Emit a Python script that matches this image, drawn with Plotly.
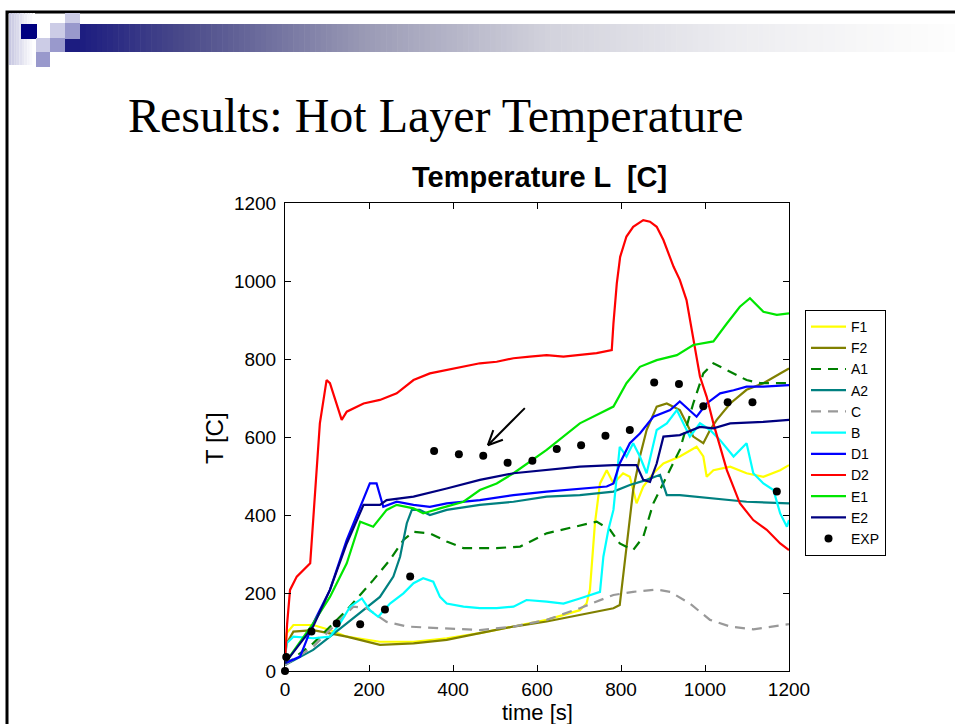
import plotly.graph_objects as go
import math

# ---------------- data ----------------
D2_t = [0, 5, 12, 28, 60, 67, 83, 99, 107, 135, 147, 187, 226, 266, 306, 345, 385, 425, 464, 504, 544, 583, 623, 663, 702, 742, 778, 782, 790, 798, 813, 829, 853, 869, 885, 901, 925, 940, 956, 972, 988, 1004, 1020, 1052, 1083, 1115, 1147, 1179, 1200]
D2_T = [20, 120, 208, 242, 276, 379, 635, 746, 738, 644, 665, 686, 695, 712, 746, 763, 772, 780, 789, 793, 802, 806, 810, 806, 810, 815, 823, 891, 994, 1062, 1114, 1139, 1156, 1152, 1139, 1105, 1037, 1003, 951, 849, 755, 703, 635, 515, 430, 387, 362, 327, 310]

E1_t = [0, 67, 107, 147, 179, 210, 242, 266, 306, 329, 369, 425, 464, 504, 544, 623, 702, 782, 813, 845, 885, 933, 972, 1020, 1052, 1083, 1107, 1139, 1171, 1200]
E1_T = [20, 122, 190, 276, 383, 370, 413, 426, 417, 404, 417, 434, 464, 481, 507, 567, 635, 678, 738, 780, 797, 810, 836, 845, 891, 934, 956, 921, 913, 917]

D1_t = [0, 36, 67, 107, 147, 179, 202, 218, 234, 266, 306, 345, 385, 464, 544, 623, 702, 766, 782, 797, 821, 845, 877, 917, 940, 964, 980, 1004, 1036, 1068, 1099, 1139, 1200]
D1_T = [20, 37, 122, 208, 336, 421, 481, 481, 421, 434, 426, 421, 430, 438, 451, 460, 468, 473, 481, 532, 584, 609, 652, 669, 691, 669, 652, 686, 712, 720, 729, 729, 733]

E2_t = [0, 67, 107, 147, 187, 226, 242, 306, 385, 464, 544, 623, 702, 782, 837, 853, 869, 885, 901, 940, 988, 1020, 1060, 1139, 1200]
E2_T = [20, 114, 208, 327, 426, 426, 438, 447, 468, 490, 507, 515, 524, 528, 528, 490, 485, 532, 601, 605, 626, 622, 635, 639, 644]

A2_t = [0, 67, 147, 226, 258, 274, 290, 302, 321, 345, 385, 464, 544, 623, 702, 782, 821, 861, 893, 909, 940, 1020, 1099, 1200]
A2_T = [15, 54, 122, 190, 242, 293, 379, 413, 413, 400, 413, 426, 434, 447, 451, 460, 477, 490, 503, 451, 451, 443, 434, 430]

F1_t = [0, 4, 20, 67, 107, 147, 226, 306, 385, 464, 544, 623, 702, 718, 726, 738, 750, 766, 782, 805, 821, 837, 853, 877, 901, 940, 980, 996, 1004, 1020, 1060, 1099, 1139, 1179, 1200]
F1_T = [60, 97, 118, 118, 105, 88, 75, 75, 84, 97, 114, 131, 156, 173, 208, 379, 481, 515, 481, 507, 498, 430, 473, 507, 532, 550, 575, 550, 498, 515, 524, 507, 498, 515, 528]

F2_t = [0, 4, 20, 67, 147, 226, 306, 385, 464, 544, 623, 702, 782, 797, 813, 829, 845, 861, 885, 909, 940, 972, 996, 1012, 1028, 1060, 1099, 1139, 1179, 1200]
F2_T = [40, 71, 101, 105, 88, 67, 71, 80, 97, 114, 127, 144, 161, 169, 319, 464, 550, 618, 678, 686, 669, 601, 584, 618, 644, 686, 721, 738, 763, 776]

B_t = [0, 4, 20, 67, 107, 131, 155, 183, 202, 222, 250, 282, 306, 329, 353, 369, 385, 425, 464, 504, 544, 575, 623, 663, 702, 750, 758, 770, 782, 797, 813, 829, 845, 861, 885, 909, 933, 948, 964, 988, 1012, 1036, 1068, 1099, 1115, 1139, 1163, 1179, 1195, 1200]
B_T = [30, 71, 88, 84, 88, 122, 165, 186, 156, 139, 173, 199, 225, 238, 229, 190, 173, 165, 161, 161, 165, 182, 178, 173, 186, 203, 293, 362, 413, 575, 550, 584, 550, 507, 618, 635, 669, 635, 601, 635, 618, 592, 550, 584, 507, 481, 464, 404, 370, 387]

A1_t = [0, 67, 147, 210, 250, 282, 306, 345, 385, 425, 504, 560, 623, 702, 742, 774, 797, 829, 853, 877, 909, 940, 972, 996, 1020, 1052, 1099, 1131, 1200]
A1_T = [15, 71, 156, 233, 285, 336, 357, 353, 332, 315, 315, 319, 353, 374, 383, 362, 327, 310, 344, 430, 498, 567, 686, 763, 789, 772, 746, 738, 738]

C_t = [0, 67, 123, 163, 194, 242, 290, 385, 464, 544, 623, 702, 782, 829, 885, 917, 964, 1012, 1060, 1115, 1163, 1200]
C_T = [15, 62, 122, 165, 161, 126, 114, 109, 105, 114, 131, 161, 195, 203, 209, 203, 173, 131, 114, 107, 114, 120]

EXP_t = [0, 3, 63, 123, 179, 238, 298, 355, 414, 472, 530, 589, 647, 705, 763, 821, 879, 938, 996, 1054, 1113, 1171]
EXP_T = [0, 36, 101, 122, 120, 158, 242, 564, 556, 552, 534, 539, 569, 579, 603, 618, 740, 736, 679, 689, 689, 460]

SERIES = [
    ("F1", F1_t, F1_T, "#ffff00", "solid"),
    ("F2", F2_t, F2_T, "#808000", "solid"),
    ("A1", A1_t, A1_T, "#008000", "10px,7px"),
    ("A2", A2_t, A2_T, "#008080", "solid"),
    ("C", C_t, C_T, "#999999", "10px,7px"),
    ("B", B_t, B_T, "#00ffff", "solid"),
    ("D1", D1_t, D1_T, "#0000ff", "solid"),
    ("D2", D2_t, D2_T, "#ff0000", "solid"),
    ("E1", E1_t, E1_T, "#00e600", "solid"),
    ("E2", E2_t, E2_T, "#000080", "solid"),
]

X_TICKS = [0, 200, 400, 600, 800, 1000, 1200]
Y_TICKS = [0, 200, 400, 600, 800, 1000, 1200]

ARROW_TAIL = (571, 674)
ARROW_HEAD = (483, 579)

# ---------------- layout geometry (pixels) ----------------
W, H = 955, 724
PL, PR, PT, PB = 285, 789, 203, 671


def px(x):
    return (x - PL) / (PR - PL)


def py(y):
    return (PB - y) / (PB - PT)


fig = go.Figure()
for name, t, T, col, dash in SERIES:
    fig.add_trace(go.Scatter(x=t, y=T, mode="lines", name=name,
                             line=dict(color=col, width=2.2, dash=dash)))
fig.add_trace(go.Scatter(x=EXP_t, y=EXP_T, mode="markers", name="EXP",
                         marker=dict(color="black", size=8),
                         cliponaxis=False))

shapes = []
# slide border
shapes.append(dict(type="rect", xref="paper", yref="paper", x0=px(7), x1=px(960),
                   y0=py(12), y1=py(730), line=dict(color="black", width=3),
                   fillcolor="rgba(0,0,0,0)", layer="below"))


def lerp(c1, c2, f):
    return tuple(int(round(a + (b - a) * f)) for a, b in zip(c1, c2))


# left faint lavender gradient strip
n = 10
for i in range(n):
    f = i / (n - 1)
    c = lerp((200, 200, 226), (255, 255, 255), f)
    x0 = 9 + (35 - 9) * i / n
    x1 = 9 + (35 - 9) * (i + 1) / n
    shapes.append(dict(type="rect", xref="paper", yref="paper", x0=px(x0), x1=px(x1),
                       y0=py(13), y1=py(65), line=dict(width=0),
                       fillcolor="rgb(%d,%d,%d)" % c, layer="below"))

# gradient bar
stops = [(80, (28, 28, 128)), (183, (74, 74, 138)), (365, (154, 154, 181)),
         (548, (210, 210, 220)), (731, (236, 236, 240)), (900, (250, 250, 250)), (955, (253, 253, 253))]
steps = 160
for i in range(steps):
    xa = 80 + (955 - 80) * i / steps
    xb = 80 + (955 - 80) * (i + 1) / steps
    xm = (xa + xb) / 2
    c = stops[-1][1]
    for (s0, c0), (s1, c1) in zip(stops[:-1], stops[1:]):
        if s0 <= xm <= s1:
            c = lerp(c0, c1, (xm - s0) / (s1 - s0))
            break
    shapes.append(dict(type="rect", xref="paper", yref="paper", x0=px(xa), x1=px(xb + 0.6),
                       y0=py(24), y1=py(52), line=dict(width=0),
                       fillcolor="rgb(%d,%d,%d)" % c, layer="below"))

# squares
sq = [
    (21, 24, 37, 39, "#000080"),
    (50, 23, 65, 38, "#ccccE6"),
    (65, 13, 80, 23, "#ccccE6"),
    (65, 23, 80, 39, "#9999cc"),
    (36, 38, 50, 52, "#ccccE6"),
    (50, 38, 65, 52, "#9999cc"),
    (36, 52, 50, 67, "#9999cc"),
    (65, 39, 80, 52, "#1c1c80"),
]
for x0, y0, x1, y1, c in sq:
    shapes.append(dict(type="rect", xref="paper", yref="paper", x0=px(x0), x1=px(x1),
                       y0=py(y0), y1=py(y1), line=dict(width=0), fillcolor=c, layer="below"))

# arrow (data coordinates); head drawn as open V
ax_scale = (PR - PL) / 1200.0
ay_scale = (PB - PT) / 1200.0
hx, hy = ARROW_HEAD
tx, ty = ARROW_TAIL
shapes.append(dict(type="line", xref="x", yref="y", x0=tx, y0=ty, x1=hx, y1=hy,
                   line=dict(color="black", width=2)))
dxp = (tx - hx) * ax_scale
dyp = (ty - hy) * ay_scale
L = math.hypot(dxp, dyp)
ux, uy = dxp / L, dyp / L
for ang in (25, -25):
    a = math.radians(ang)
    rx = ux * math.cos(a) - uy * math.sin(a)
    ry = ux * math.sin(a) + uy * math.cos(a)
    shapes.append(dict(type="line", xref="x", yref="y", x0=hx, y0=hy,
                       x1=hx + rx * 16 / ax_scale, y1=hy + ry * 16 / ay_scale,
                       line=dict(color="black", width=2)))

annotations = [
    dict(text="Results: Hot Layer Temperature", xref="paper", yref="paper",
         x=px(126), y=py(115), xanchor="left", yanchor="middle", showarrow=False,
         font=dict(family="Liberation Serif", size=48, color="black")),
    dict(text="<b>Temperature L  [C]</b>", xref="paper", yref="paper",
         x=px(539), y=py(177), xanchor="center", yanchor="middle", showarrow=False,
         font=dict(family="Liberation Sans", size=29, color="black")),
    dict(text="T [C]", xref="paper", yref="paper", textangle=-90,
         x=px(214), y=py(438), xanchor="center", yanchor="middle", showarrow=False,
         font=dict(family="Liberation Sans", size=24, color="black")),
    dict(text="time [s]", xref="paper", yref="paper",
         x=px(537), y=py(712), xanchor="center", yanchor="middle", showarrow=False,
         font=dict(family="Liberation Sans", size=22, color="black")),
]

axis_common = dict(showgrid=False, zeroline=False, showline=True, mirror="ticks",
                   linecolor="black", linewidth=1, ticks="inside", ticklen=6,
                   tickcolor="black", tickwidth=1,
                   tickfont=dict(family="Liberation Sans", size=19, color="black"))

fig.update_layout(
    width=W, height=H,
    margin=dict(l=PL, r=W - PR, t=PT, b=H - PB, pad=0),
    paper_bgcolor="white", plot_bgcolor="white",
    xaxis=dict(range=[0, 1200], tickvals=X_TICKS, ticklabelstandoff=1, **axis_common),
    yaxis=dict(range=[0, 1200], tickvals=Y_TICKS, ticklabelstandoff=4, **axis_common),
    showlegend=True,
    legend=dict(x=px(805), y=py(310), xanchor="left", yanchor="top",
                bgcolor="white", bordercolor="black", borderwidth=1,
                font=dict(family="Liberation Sans", size=14, color="black"),
                itemwidth=35, tracegroupgap=0),
    shapes=shapes,
    annotations=annotations,
)

fig.write_html("out.html")
